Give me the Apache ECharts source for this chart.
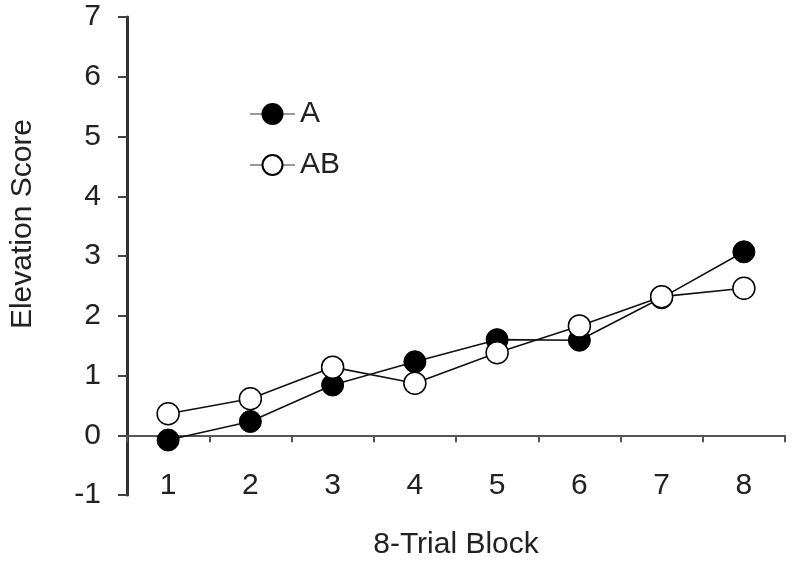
<!DOCTYPE html>
<html>
<head>
<meta charset="utf-8">
<script src="https://cdn.jsdelivr.net/npm/echarts@6/dist/echarts.min.js"></script>
<style>
html,body{margin:0;padding:0;background:#fff;}
#chart{width:800px;height:568px;}
</style>
</head>
<body>
<div id="chart"></div>
<script>
var categories = ['1','2','3','4','5','6','7','8'];
var seriesA = [-0.08, 0.23, 0.84, 1.23, 1.6, 1.59, 2.3, 3.07];
var seriesAB = [0.36, 0.61, 1.14, 0.87, 1.38, 1.83, 2.32, 2.46];
var yTicks = {min: -1, max: 7, interval: 1};
var FONT = '"Liberation Sans", Arial, sans-serif';

var chart = echarts.init(document.getElementById('chart'), null, {renderer: 'canvas'});
chart.setOption({
  backgroundColor: '#ffffff',
  animation: false,
  grid: {left: 127, right: 15, top: 17, bottom: 73, containLabel: false, outerBoundsMode: 'none'},
  legend: {
    orient: 'vertical',
    left: 244,
    top: 94,
    itemWidth: 45,
    itemHeight: 25,
    itemGap: 21,
    textStyle: {fontFamily: FONT, fontSize: 30, color: '#222'},
    lineStyle: {color: '#999', width: 2},
    data: ['A', 'AB']
  },
  xAxis: {
    type: 'category',
    data: categories,
    boundaryGap: true,
    axisLine: {onZero: true, lineStyle: {color: '#555', width: 2}},
    axisTick: {show: true, length: 7, lineStyle: {color: '#555', width: 2}},
    axisLabel: {fontFamily: FONT, fontSize: 30, color: '#222', margin: -24},
    splitLine: {show: false},
    name: '8-Trial Block',
    nameLocation: 'middle',
    nameGap: 35,
    nameTextStyle: {fontFamily: FONT, fontSize: 30, color: '#222'}
  },
  yAxis: {
    type: 'value',
    min: yTicks.min,
    max: yTicks.max,
    interval: yTicks.interval,
    axisLine: {show: true, onZero: false, lineStyle: {color: '#333', width: 3}},
    axisTick: {show: true, length: 9, lineStyle: {color: '#444', width: 2}},
    axisLabel: {fontFamily: FONT, fontSize: 30, color: '#222', margin: 26},
    splitLine: {show: false}
  },
  graphic: [{
    type: 'text',
    x: 23,
    y: 224,
    rotation: Math.PI / 2,
    style: {
      text: 'Elevation Score',
      font: '30px "Liberation Sans", Arial, sans-serif',
      fill: '#222',
      textAlign: 'center',
      textVerticalAlign: 'middle'
    }
  }],
  series: [
    {
      name: 'A',
      type: 'line',
      data: seriesA,
      symbol: 'circle',
      symbolSize: 22,
      lineStyle: {color: '#111', width: 1.6},
      itemStyle: {color: '#000', borderColor: '#000', borderWidth: 1},
      z: 3
    },
    {
      name: 'AB',
      type: 'line',
      data: seriesAB,
      symbol: 'circle',
      symbolSize: 22,
      lineStyle: {color: '#111', width: 1.6},
      itemStyle: {color: '#fff', borderColor: '#000', borderWidth: 1.5},
      z: 4
    }
  ]
});
</script>
</body>
</html>
